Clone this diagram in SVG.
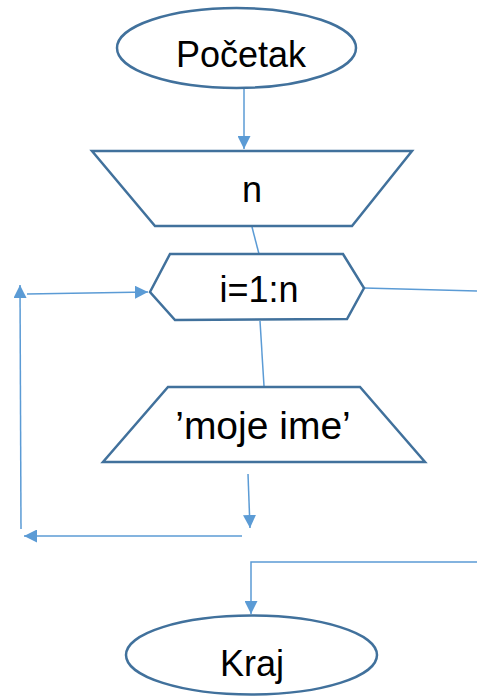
<svg xmlns="http://www.w3.org/2000/svg" width="477" height="696" viewBox="0 0 477 696">
  <style>
    .shape { fill: #ffffff; stroke: #41719C; stroke-width: 2.5; stroke-linejoin: miter; }
    .label { font-family: "Liberation Sans", "Open Sans", sans-serif; font-size: 36px; fill: #000000; text-anchor: middle; }
    .conn { fill: none; stroke: #5B9BD5; stroke-width: 1.5; }
  </style>
  <defs>
    <marker id="arrow" viewBox="0 0 10 10" refX="10" refY="5" markerWidth="13" markerHeight="13" markerUnits="userSpaceOnUse" orient="auto">
      <path d="M0,0 L10,5 L0,10 Z" fill="#5B9BD5"/>
    </marker>
  </defs>

  <rect width="477" height="696" fill="#ffffff"/>

  <g id="connectors">
    <line class="conn" x1="244" y1="89" x2="244" y2="149" marker-end="url(#arrow)"/>
    <line class="conn" x1="252" y1="227" x2="259" y2="254"/>
    <line class="conn" x1="27" y1="294" x2="148" y2="292" marker-end="url(#arrow)"/>
    <line class="conn" x1="364" y1="288" x2="477" y2="291"/>
    <line class="conn" x1="260" y1="321" x2="264" y2="386"/>
    <line class="conn" x1="248" y1="474" x2="250" y2="528" marker-end="url(#arrow)"/>
    <line class="conn" x1="242" y1="536" x2="24" y2="536" marker-end="url(#arrow)"/>
    <line class="conn" x1="21" y1="529" x2="20" y2="285" marker-end="url(#arrow)"/>
    <polyline class="conn" points="477,562 251,562 251,614" marker-end="url(#arrow)"/>
  </g>

  <g id="start">
    <ellipse class="shape" cx="236.5" cy="48" rx="119.5" ry="40"/>
    <text class="label" x="241" y="67">Početak</text>
  </g>

  <g id="input-n">
    <polygon class="shape" points="92,151 412,151 352,226 155,226"/>
    <text class="label" x="252" y="202">n</text>
  </g>

  <g id="loop">
    <polygon class="shape" points="150,292 170,254 343,254 364,288 347,319 175,320"/>
    <text class="label" x="259" y="302">i=1:n</text>
  </g>

  <g id="output-name">
    <polygon class="shape" points="168,387 360,387 425,462 103,462"/>
    <text class="label" x="263" y="439" style="font-size:39px">’moje ime’</text>
  </g>

  <g id="end">
    <ellipse class="shape" cx="251.5" cy="655" rx="125.5" ry="39.5"/>
    <text class="label" x="252" y="676">Kraj</text>
  </g>
</svg>
